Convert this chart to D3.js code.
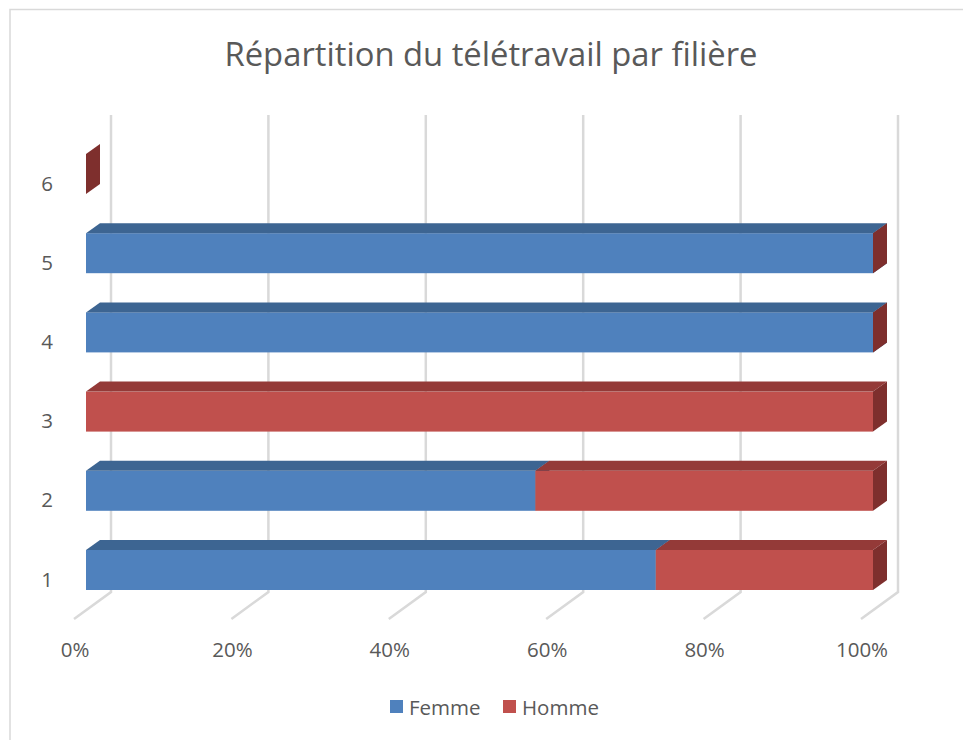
<!DOCTYPE html>
<html><head><meta charset="utf-8">
<script src="https://cdn.jsdelivr.net/npm/d3@7"></script>
<style>body{margin:0;background:#fff}svg{display:block}text{font-family:"Open Sans",sans-serif;fill:#595959}</style>
</head><body><svg id="c" width="963" height="740"></svg>
<script>
const title = "Répartition du télétravail par filière";
const categories = ["1","2","3","4","5","6"];
const femme = [72.4, 57.1, 0, 100, 100, 0];
const homme = [27.6, 42.9, 100, 0, 0, 0];
const seriesNames = ["Femme","Homme"];
const ticks = [0, 0.2, 0.4, 0.6, 0.8, 1];

const svg = d3.select("#c");
const colors = {
  Femme: {front:"#4F81BD", top:"#3D6592", side:"#365C88"},
  Homme: {front:"#C0504D", top:"#943A38", side:"#7E2F2D"}
};
// border
svg.append("rect").attr("x",10).attr("y",9.5).attr("width",970).attr("height",760)
  .attr("fill","none").attr("stroke","#D9D9D9").attr("stroke-width",1.5);

const x = d3.scaleLinear().domain([0,1]).range([86,873]);
const y = d3.scaleBand().domain(categories.slice().reverse()).range([134.4,609.6]).paddingInner(0.495).paddingOuter(0.2475);
const depth = {dx:14, dy:-10};
const wall = {dx:25, top:115, bottom:592};
const front = {dx:-12, y:619};

// gridlines on back wall + floor
const g = svg.append("g");
ticks.forEach(t=>{
  const xb = x(t)+wall.dx, xf = x(t)+front.dx;
  g.append("path").attr("d",`M${xb},${wall.top}L${xb},${wall.bottom}L${xf},${front.y}`)
    .attr("fill","none").attr("stroke","#D9D9D9").attr("stroke-width",2.5);
  svg.append("text").attr("x",xf+1).attr("y",657).attr("text-anchor","middle")
    .attr("font-size",20.5).text(d3.format(".0%")(t));
});

// category labels
categories.forEach(c=>{
  svg.append("text").attr("x",47).attr("y",y(c)+y.bandwidth()/2+16.5).attr("text-anchor","middle")
    .attr("font-size",20.5).text(c);
});

// bars
const bars = svg.append("g");
categories.slice().reverse().forEach(c=>{
  const i = categories.indexOf(c);
  const total = femme[i]+homme[i];
  const vals = [femme[i], homme[i]];
  let acc = 0;
  const top = y(c), bot = y(c)+y.bandwidth();
  vals.forEach((v,k)=>{
    const col = colors[seriesNames[k]];
    const f0 = total ? acc/total : 0;
    acc += v;
    const f1 = total ? acc/total : 0;
    const x0 = x(f0), x1 = x(f1);
    const {dx,dy} = depth;
    if (x1 > x0) {
      bars.append("rect").attr("x",x0).attr("y",top).attr("width",x1-x0).attr("height",bot-top).attr("fill",col.front);
      bars.append("path").attr("d",`M${x0},${top}L${x1},${top}L${x1+dx},${top+dy}L${x0+dx},${top+dy}Z`).attr("fill",col.top);
    }
    if (k===1 || x1 > x0) {
      bars.append("path").attr("d",`M${x1},${top}L${x1+dx},${top+dy}L${x1+dx},${bot+dy}L${x1},${bot}Z`).attr("fill",col.side);
    }
  });
});

// title
svg.append("text").attr("x",491).attr("y",66).attr("text-anchor","middle")
  .attr("font-size",33).attr("textLength",533).attr("lengthAdjust","spacingAndGlyphs").text(title);

// legend
const leg = svg.append("g");
[[390,"Femme"],[503,"Homme"]].forEach(([lx,name])=>{
  leg.append("rect").attr("x",lx).attr("y",700).attr("width",13).attr("height",13).attr("fill",colors[name].front);
  leg.append("text").attr("x",lx+19).attr("y",714.5).attr("font-size",20.5).text(name);
});
</script></body></html>
